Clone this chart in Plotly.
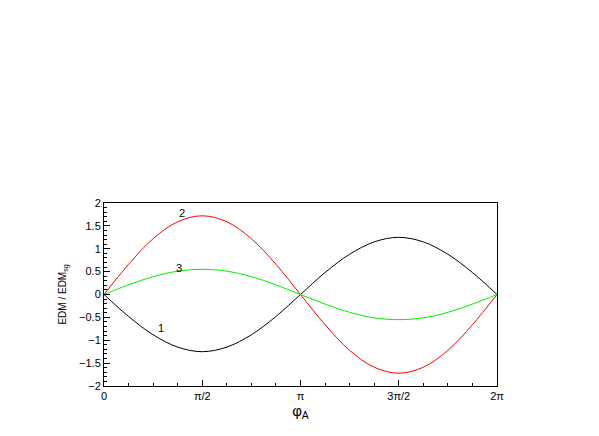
import plotly.graph_objects as go
import math

phi = [k * math.pi / 8 for k in range(17)]
curve1 = [0, -0.48, -0.88, -1.15, -1.25, -1.15, -0.88, -0.48, 0, 0.48, 0.88, 1.15, 1.25, 1.15, 0.88, 0.48, 0]
curve2 = [0, 0.66, 1.22, 1.59, 1.72, 1.59, 1.22, 0.66, 0, -0.66, -1.22, -1.59, -1.72, -1.59, -1.22, -0.66, 0]
curve3 = [0, 0.21, 0.39, 0.51, 0.55, 0.51, 0.39, 0.21, 0, -0.21, -0.39, -0.51, -0.55, -0.51, -0.39, -0.21, 0]
xtick_vals = [0, math.pi / 2, math.pi, 3 * math.pi / 2, 2 * math.pi]
xtick_text = ["0", "π/2", "π", "3π/2", "2π"]
labels = [("1", 0.91, -0.73), ("2", 1.25, 1.78), ("3", 1.2, 0.58)]

fig = go.Figure()
for y, c in [(curve1, "black"), (curve2, "red"), (curve3, "#00ee00")]:
    fig.add_trace(go.Scatter(x=phi, y=y, mode="lines", line=dict(color=c, width=1, shape="spline"), showlegend=False))
for t, x, y in labels:
    fig.add_annotation(x=x, y=y, text=t, showarrow=False, font=dict(size=11, color="#000000"))

ax = dict(showline=True, linecolor="black", linewidth=1, mirror=True, showgrid=False, zeroline=False,
          ticks="inside", ticklen=6, tickcolor="black", tickfont=dict(size=11, color="black"))
fig.update_xaxes(range=[0, 2 * math.pi], tickvals=xtick_vals, ticktext=xtick_text,
                 minor=dict(ticks="inside", ticklen=3, tickcolor="black", dtick=math.pi / 8),
                 title=dict(text="φ<sub>A</sub>", font=dict(size=15, color="black"), standoff=4), **ax)
fig.update_yaxes(range=[-2, 2], dtick=0.5,
                 minor=dict(ticks="inside", ticklen=3, tickcolor="black", dtick=0.1),
                 title=dict(text="EDM / EDM<sub>sg</sub>", font=dict(size=10, color="black"), standoff=10), **ax)
fig.update_layout(width=599, height=436, margin=dict(l=96, r=110, t=195, b=58),
                  plot_bgcolor="white", paper_bgcolor="white",
                  font=dict(family="Liberation Sans, Arial, sans-serif", color="black"))
fig.write_html("out.html")
